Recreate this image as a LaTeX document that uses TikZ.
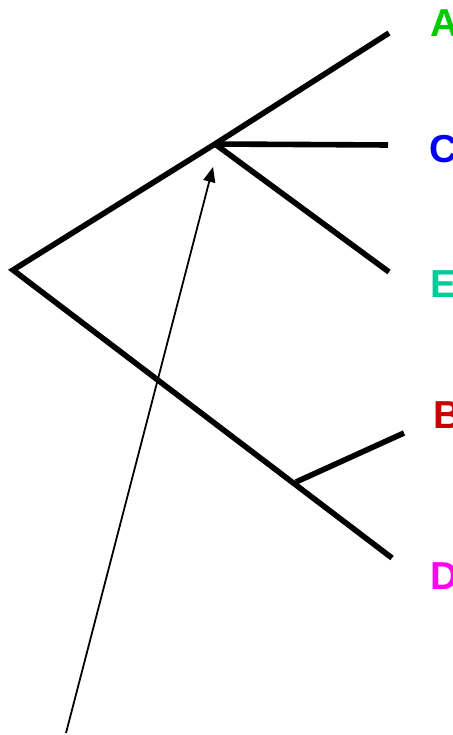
\documentclass[tikz,border=0pt]{standalone}
\usepackage{fontspec}
\setmainfont{Liberation Sans}
\usetikzlibrary{arrows.meta}
\definecolor{cA}{RGB}{0,204,0}
\definecolor{cC}{RGB}{0,0,255}
\definecolor{cE}{RGB}{0,204,153}
\definecolor{cB}{RGB}{204,0,0}
\definecolor{cD}{RGB}{255,0,255}
\tikzset{
  branch/.style={line width=5.6pt, line cap=butt},
  pointer/.style={line width=1.8pt, -{Triangle[length=15pt,width=12pt]}},
  leaf/.style={anchor=west, inner sep=0pt, font=\fontsize{39}{42}\selectfont\bfseries}
}
\begin{document}
\begin{tikzpicture}[x=1pt,y=-1pt]
\useasboundingbox (0,0) rectangle (452,735);
\clip (0,0) rectangle (452,735);
\coordinate (root) at (13,270);
\coordinate (up) at (215,144);
\coordinate (low) at (296,482);
\coordinate (tA) at (389,33);
\coordinate (tC) at (388,145);
\coordinate (tE) at (389,272);
\coordinate (tB) at (404,433);
\coordinate (tD) at (392,558);
\coordinate (ptail) at (66,733);
\coordinate (phead) at (213,167);
\draw[branch] (tA) -- (up) -- (root) -- (tD);
\draw[branch] (up) -- (tC);
\draw[branch] (up) -- (tE);
\draw[branch] (low) -- (tB);
\draw[pointer] (ptail) -- (phead);
\node[leaf, text=cA] (lA) at (430,23) {A};
\node[leaf, text=cC] (lC) at (429,149) {C};
\node[leaf, text=cE] (lE) at (430,284) {E};
\node[leaf, text=cB] (lB) at (433,415) {B};
\node[leaf, text=cD] (lD) at (430,576) {D};
\end{tikzpicture}
\end{document}
